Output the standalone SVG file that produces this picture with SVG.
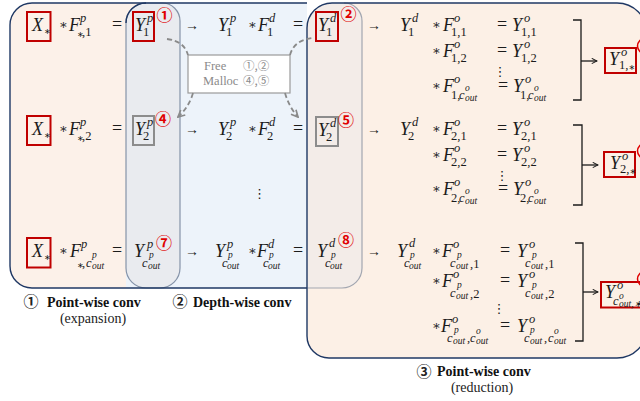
<svg xmlns="http://www.w3.org/2000/svg" width="640" height="401" viewBox="0 0 640 401">
<style>
text{font-family:"Liberation Serif","Times New Roman",serif;fill:#1b1b1b}
.m{font-style:italic;font-size:18px}
.p{font-style:italic;font-size:12.5px}
.n{font-style:normal;font-size:12.5px}
.q{font-style:italic;font-size:9.5px}
.o{font-family:"DejaVu Serif",serif;font-style:normal;font-size:13px}
.t{font-family:"DejaVu Sans",sans-serif;font-style:normal;font-size:8px}
.e{font-size:18px}
.a{font-size:14px}
.d{font-family:"DejaVu Sans",sans-serif;font-size:13px;text-anchor:middle}
.rc{font-family:"Noto Sans CJK JP",sans-serif;font-weight:bold;font-size:16px;fill:#e00000;text-anchor:middle}
.bc{font-family:"Noto Sans CJK JP",sans-serif;font-weight:bold;font-size:15px;fill:#222;text-anchor:middle}
.lb{font-weight:bold;font-size:14px;fill:#111}
.ls{font-size:14px;fill:#222;text-anchor:middle}
.fm{font-size:12.5px;fill:#8a8a8a}
.fc{font-family:"Noto Sans CJK JP",sans-serif;font-size:11.5px;fill:#8a8a8a}
.rb{fill:none;stroke:#c00000;stroke-width:2}
.gb{fill:none;stroke:#8c8c8c;stroke-width:2}
.rcirc{fill:none;stroke:#e00000;stroke-width:1.5}
.br{fill:none;stroke:#1b1b1b;stroke-width:1.3}
.dash{fill:none;stroke:#8a8a8a;stroke-width:1.8;stroke-dasharray:5 3}
.nv{fill:none;stroke:#1f3864;stroke-width:1.4}
</style>
<defs>
<marker id="ak" viewBox="0 0 8 8" refX="7" refY="4" markerWidth="7" markerHeight="7" markerUnits="userSpaceOnUse" orient="auto"><path d="M1 1 L7 4 L1 7" fill="none" stroke="#1b1b1b" stroke-width="1.2"/></marker>
<marker id="ag" viewBox="0 0 8 8" refX="7" refY="4" markerWidth="9" markerHeight="9" markerUnits="userSpaceOnUse" orient="auto"><path d="M1 1 L7 4 L1 7" fill="none" stroke="#8a8a8a" stroke-width="1.5"/></marker>
</defs>

<g id="panels">
<path d="M307 28 A25 25 0 0 1 332 3 H617 A30 30 0 0 1 647 33 V328 A30 30 0 0 1 617 358 H329 A22 22 0 0 1 307 336 Z" fill="#fcf0e6"/>
<path d="M307 3 H32 A22 22 0 0 0 10 25 V266 A22 22 0 0 0 32 288 H307 Z" fill="#fcf1e9"/>
<path d="M126 288 V23 A20 20 0 0 1 146 3 H307 V288 Z" fill="#edf3fa"/>
<path d="M146 288 A20 20 0 0 1 126 268 V23 A20 20 0 0 1 146 3 H162 A18 18 0 0 1 180 21 V268 A20 20 0 0 1 160 288 Z" fill="#e9ebef" stroke="#8593a8" stroke-width="1.2"/>
<path d="M307 28 A25 25 0 0 1 332 3 H344 A18 18 0 0 1 362 21 V268 A20 20 0 0 1 342 288 H307 Z" fill="#f3ece8"/>
<path d="M344 3 A18 18 0 0 1 362 21 V268 A20 20 0 0 1 342 288 H307" fill="none" stroke="#a2a6b0" stroke-width="1.2"/>
<path class="nv" d="M307 28 A25 25 0 0 1 332 3 H617 A30 30 0 0 1 647 33 V328 A30 30 0 0 1 617 358 H329 A22 22 0 0 1 307 336 Z"/>
<path class="nv" d="M307 3 H32 A22 22 0 0 0 10 25 V266 A22 22 0 0 0 32 288 H307"/>
<path class="nv" d="M126 23 A20 20 0 0 1 146 3"/>
</g>

<g id="row1">
<rect class="rb" x="27" y="12" width="23.5" height="29"/>
<text class="m" x="32" y="31">X<tspan class="t" x="44" y="34">∗</tspan></text>
<text class="o" x="59" y="29">∗</text>
<text class="m" x="69" y="31">F<tspan class="p" x="80" y="22">p</tspan><tspan class="t" x="77" y="37">∗</tspan><tspan class="n" x="82" y="36">,1</tspan></text>
<text class="e" x="112" y="30">=</text>
<rect class="rb" x="133" y="12" width="21" height="29"/>
<text class="m" x="135" y="31">Y<tspan class="p" x="147" y="22">p</tspan><tspan class="n" x="143" y="36">1</tspan></text>
<text class="rc" x="164.5" y="20.5">①</text>
<text class="a" x="185" y="30">→</text>
<text class="m" x="218" y="31">Y<tspan class="p" x="230" y="22">p</tspan><tspan class="n" x="226" y="36">1</tspan></text>
<text class="o" x="248" y="29">∗</text>
<text class="m" x="258" y="31">F<tspan class="p" x="269" y="22">d</tspan><tspan class="n" x="267" y="36">1</tspan></text>
<text class="e" x="293" y="30">=</text>
<rect class="rb" x="316" y="12" width="22" height="29"/>
<text class="m" x="318" y="31">Y<tspan class="p" x="330" y="22">d</tspan><tspan class="n" x="326" y="36">1</tspan></text>
<text class="rc" x="348.5" y="19.5">②</text>
<text class="a" x="367" y="30">→</text>
<text class="m" x="400" y="31">Y<tspan class="p" x="412" y="22">d</tspan><tspan class="n" x="408" y="36">1</tspan></text>
<text class="o" x="432" y="29">∗</text><text class="m" x="443" y="31">F<tspan class="p" x="454" y="22">o</tspan><tspan class="n" x="451" y="36">1,1</tspan></text>
<text class="e" x="497" y="30">=</text><text class="m" x="512" y="31">Y<tspan class="p" x="524" y="22">o</tspan><tspan class="n" x="521" y="36">1,1</tspan></text>
<text class="o" x="432" y="55">∗</text><text class="m" x="443" y="57">F<tspan class="p" x="454" y="48">o</tspan><tspan class="n" x="451" y="62">1,2</tspan></text>
<text class="e" x="497" y="56">=</text><text class="m" x="512" y="57">Y<tspan class="p" x="524" y="48">o</tspan><tspan class="n" x="521" y="62">1,2</tspan></text>
<text class="d" x="500" y="76">⋮</text>
<text class="o" x="432" y="90">∗</text><text class="m" x="443" y="92">F<tspan class="p" x="454" y="83">o</tspan><tspan class="n" x="451" y="99">1,</tspan><tspan class="p" x="459" y="99">c</tspan><tspan class="q" x="465" y="91">o</tspan><tspan class="q" x="465" y="101">out</tspan></text>
<text class="e" x="498" y="91">=</text><text class="m" x="513" y="92">Y<tspan class="p" x="525" y="83">o</tspan><tspan class="n" x="520" y="99">1,</tspan><tspan class="p" x="528" y="99">c</tspan><tspan class="q" x="534" y="91">o</tspan><tspan class="q" x="534" y="101">out</tspan></text>
<rect class="rb" x="605" y="48" width="31" height="25"/>
<text class="m" x="609" y="65">Y<tspan class="p" x="621" y="56">o</tspan><tspan class="n" x="619" y="69">1,</tspan><tspan class="t" x="628.5" y="70">∗</tspan></text>
<circle class="rcirc" cx="645" cy="46" r="7.5"/>
</g>

<g id="row2">
<rect class="rb" x="27" y="116" width="23.5" height="29"/>
<text class="m" x="32" y="135">X<tspan class="t" x="44" y="138">∗</tspan></text>
<text class="o" x="59" y="133">∗</text>
<text class="m" x="69" y="135">F<tspan class="p" x="80" y="126">p</tspan><tspan class="t" x="77" y="141">∗</tspan><tspan class="n" x="82" y="140">,2</tspan></text>
<text class="e" x="112" y="134">=</text>
<rect class="gb" x="133" y="116" width="21" height="29"/>
<text class="m" x="135" y="135">Y<tspan class="p" x="147" y="126">p</tspan><tspan class="n" x="143" y="140">2</tspan></text>
<text class="rc" x="163" y="124.5">④</text>
<text class="a" x="185" y="134">→</text>
<text class="m" x="218" y="135">Y<tspan class="p" x="230" y="126">p</tspan><tspan class="n" x="226" y="140">2</tspan></text>
<text class="o" x="248" y="133">∗</text>
<text class="m" x="258" y="135">F<tspan class="p" x="269" y="126">d</tspan><tspan class="n" x="267" y="140">2</tspan></text>
<text class="e" x="293" y="134">=</text>
<rect class="gb" x="316" y="117" width="22" height="29"/>
<text class="m" x="318" y="136">Y<tspan class="p" x="330" y="127">d</tspan><tspan class="n" x="326" y="141">2</tspan></text>
<text class="rc" x="346" y="125.5">⑤</text>
<text class="a" x="367" y="134">→</text>
<text class="m" x="400" y="135">Y<tspan class="p" x="412" y="126">d</tspan><tspan class="n" x="408" y="140">2</tspan></text>
<text class="o" x="432" y="133">∗</text><text class="m" x="443" y="135">F<tspan class="p" x="454" y="126">o</tspan><tspan class="n" x="451" y="140">2,1</tspan></text>
<text class="e" x="497" y="134">=</text><text class="m" x="512" y="135">Y<tspan class="p" x="524" y="126">o</tspan><tspan class="n" x="521" y="140">2,1</tspan></text>
<text class="o" x="432" y="159">∗</text><text class="m" x="443" y="161">F<tspan class="p" x="454" y="152">o</tspan><tspan class="n" x="451" y="166">2,2</tspan></text>
<text class="e" x="497" y="160">=</text><text class="m" x="512" y="161">Y<tspan class="p" x="524" y="152">o</tspan><tspan class="n" x="521" y="166">2,2</tspan></text>
<text class="d" x="502" y="180">⋮</text>
<text class="o" x="432" y="193">∗</text><text class="m" x="443" y="195">F<tspan class="p" x="454" y="186">o</tspan><tspan class="n" x="451" y="202">2,</tspan><tspan class="p" x="459" y="202">c</tspan><tspan class="q" x="465" y="194">o</tspan><tspan class="q" x="465" y="204">out</tspan></text>
<text class="e" x="498" y="194">=</text><text class="m" x="513" y="195">Y<tspan class="p" x="525" y="186">o</tspan><tspan class="n" x="520" y="202">2,</tspan><tspan class="p" x="528" y="202">c</tspan><tspan class="q" x="534" y="194">o</tspan><tspan class="q" x="534" y="204">out</tspan></text>
<text class="d" x="259.5" y="198">⋮</text>
<rect class="rb" x="604" y="152" width="31" height="25"/>
<text class="m" x="610" y="169">Y<tspan class="p" x="622" y="160">o</tspan><tspan class="n" x="620" y="173">2,</tspan><tspan class="t" x="629.5" y="174">∗</tspan></text>
<circle class="rcirc" cx="645" cy="151" r="7.5"/>
</g>

<g id="row3">
<rect class="rb" x="27" y="238" width="23.5" height="29.5"/>
<text class="m" x="32" y="257">X<tspan class="t" x="44" y="260">∗</tspan></text>
<text class="o" x="59" y="255">∗</text>
<text class="m" x="70" y="257">F<tspan class="p" x="81" y="248">p</tspan><tspan class="t" x="77" y="268">∗</tspan><tspan class="n" x="82" y="267">,</tspan><tspan class="p" x="86" y="267">c</tspan><tspan class="q" x="92" y="258">p</tspan><tspan class="q" x="92" y="269">out</tspan></text>
<text class="e" x="112" y="256">=</text>
<text class="m" x="134" y="257">Y<tspan class="p" x="147" y="248">p</tspan><tspan class="p" x="142" y="267">c</tspan><tspan class="q" x="149" y="258">p</tspan><tspan class="q" x="148" y="269">out</tspan></text>
<text class="rc" x="164" y="248.5">⑦</text>
<text class="a" x="185" y="256">→</text>
<text class="m" x="215" y="257">Y<tspan class="p" x="227" y="248">p</tspan><tspan class="p" x="222" y="267">c</tspan><tspan class="q" x="228" y="258">p</tspan><tspan class="q" x="227" y="269">out</tspan></text>
<text class="o" x="248" y="255">∗</text>
<text class="m" x="257" y="257">F<tspan class="p" x="268" y="248">d</tspan><tspan class="p" x="263" y="267">c</tspan><tspan class="q" x="269" y="258">p</tspan><tspan class="q" x="268" y="269">out</tspan></text>
<text class="e" x="293" y="256">=</text>
<text class="m" x="317" y="257">Y<tspan class="p" x="329" y="247">d</tspan><tspan class="p" x="325" y="267">c</tspan><tspan class="q" x="331" y="258">p</tspan><tspan class="q" x="330" y="269">out</tspan></text>
<text class="rc" x="346" y="246">⑧</text>
<text class="a" x="367" y="256">→</text>
<text class="m" x="397" y="257">Y<tspan class="p" x="409" y="247">d</tspan><tspan class="p" x="404" y="267">c</tspan><tspan class="q" x="410" y="258">p</tspan><tspan class="q" x="409" y="269">out</tspan></text>
<text class="o" x="432" y="255">∗</text><text class="m" x="442" y="257">F<tspan class="p" x="453" y="248">o</tspan><tspan class="p" x="450" y="267">c</tspan><tspan class="q" x="457" y="258">p</tspan><tspan class="q" x="456" y="269">out</tspan><tspan class="n" x="470" y="268">,1</tspan></text>
<text class="e" x="500" y="256">=</text><text class="m" x="517" y="257">Y<tspan class="p" x="529" y="248">o</tspan><tspan class="p" x="525" y="267">c</tspan><tspan class="q" x="532" y="258">p</tspan><tspan class="q" x="531" y="269">out</tspan><tspan class="n" x="545" y="268">,1</tspan></text>
<text class="o" x="432" y="285">∗</text><text class="m" x="442" y="287">F<tspan class="p" x="453" y="278">o</tspan><tspan class="p" x="450" y="297">c</tspan><tspan class="q" x="457" y="288">p</tspan><tspan class="q" x="456" y="299">out</tspan><tspan class="n" x="470" y="298">,2</tspan></text>
<text class="e" x="500" y="286">=</text><text class="m" x="517" y="287">Y<tspan class="p" x="529" y="278">o</tspan><tspan class="p" x="525" y="297">c</tspan><tspan class="q" x="532" y="288">p</tspan><tspan class="q" x="531" y="299">out</tspan><tspan class="n" x="545" y="298">,2</tspan></text>
<text class="d" x="499" y="313">⋮</text>
<text class="o" x="432" y="330">∗</text><text class="m" x="441" y="332">F<tspan class="p" x="452" y="323">o</tspan><tspan class="p" x="447" y="342">c</tspan><tspan class="q" x="454" y="333">p</tspan><tspan class="q" x="453" y="344">out</tspan><tspan class="n" x="467" y="342">,</tspan><tspan class="p" x="470" y="342">c</tspan><tspan class="q" x="476" y="334">o</tspan><tspan class="q" x="476" y="344">out</tspan></text>
<text class="e" x="500" y="331">=</text><text class="m" x="517" y="332">Y<tspan class="p" x="529" y="323">o</tspan><tspan class="p" x="524" y="342">c</tspan><tspan class="q" x="530" y="333">p</tspan><tspan class="q" x="530" y="344">out</tspan><tspan class="n" x="544" y="342">,</tspan><tspan class="p" x="548" y="342">c</tspan><tspan class="q" x="554" y="334">o</tspan><tspan class="q" x="554" y="344">out</tspan></text>
<rect class="rb" x="601" y="282" width="45" height="25.5"/>
<text class="m" x="605" y="298">Y<tspan class="p" x="617" y="289">o</tspan><tspan class="p" x="613" y="305">c</tspan><tspan class="q" x="619" y="299">o</tspan><tspan class="q" x="619" y="307">out,∗</tspan></text>
<circle class="rcirc" cx="645" cy="279" r="7.5"/>
</g>

<g id="memory-box">
<rect x="188" y="55" width="102" height="38" fill="#fff" stroke="#9a9a9a" stroke-width="1.2"/>
<text class="fm" x="204" y="70">Free</text><text class="fc" x="243" y="70">①,②</text>
<text class="fm" x="203" y="85">Malloc</text><text class="fc" x="243" y="85">④,⑤</text>
</g>

<g id="connectors">
<path class="dash" d="M167 39 Q184 41 188 55"/>
<path class="dash" d="M290 55 Q294 40 313 38"/>
<path class="dash" d="M193 93 Q189 107 178 117" marker-end="url(#ag)"/>
<path class="dash" d="M285 93 Q289 107 298 117" marker-end="url(#ag)"/>
<path class="br" d="M573 20 H581 V100 H573"/>
<line class="br" x1="581" y1="61" x2="597" y2="61" marker-end="url(#ak)"/>
<path class="br" d="M573 125 H582 V205 H573"/>
<line class="br" x1="582" y1="165" x2="598" y2="165" marker-end="url(#ak)"/>
<path class="br" d="M575 243 H583 V341 H575"/>
<line class="br" x1="583" y1="292" x2="598" y2="292" marker-end="url(#ak)"/>
</g>

<g id="labels">
<text class="bc" x="31" y="307">①</text>
<text class="lb" x="47" y="307">Point-wise conv</text>
<text class="ls" x="93" y="323">(expansion)</text>
<text class="bc" x="180" y="307">②</text>
<text class="lb" x="193" y="307">Depth-wise conv</text>
<text class="bc" x="424" y="376.5">③</text>
<text class="lb" x="437" y="376">Point-wise conv</text>
<text class="ls" x="482" y="392">(reduction)</text>
</g>
</svg>
